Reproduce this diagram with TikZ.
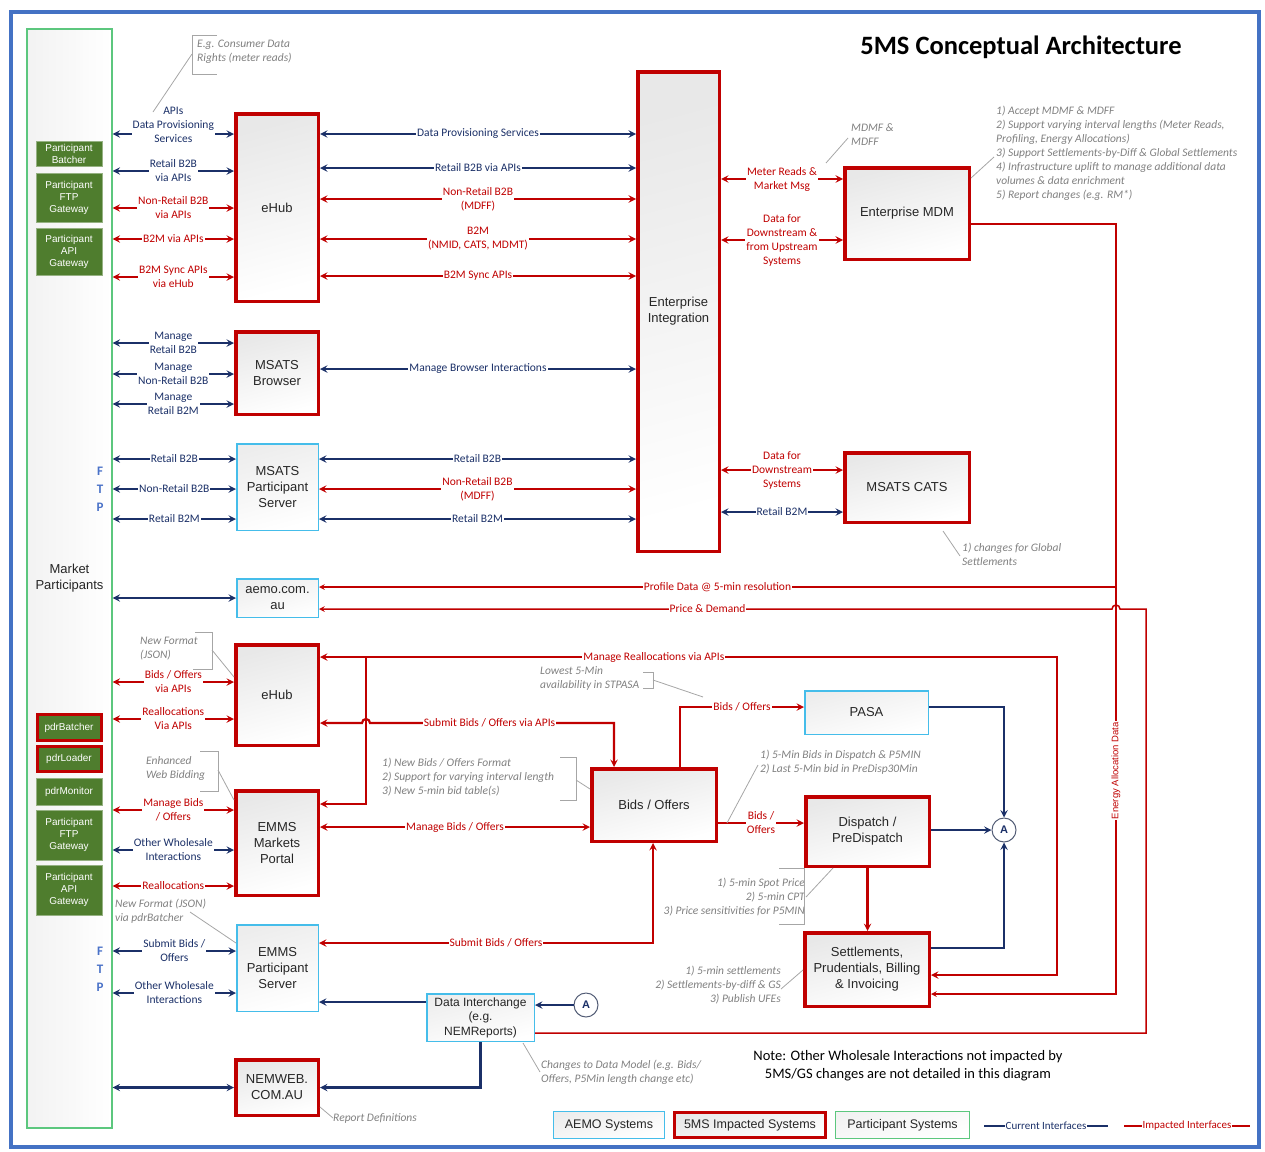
\documentclass[tikz,border=0pt]{standalone}
\usepackage{fontspec}
\setmainfont{Carlito}
\newfontfamily\arialfont{Liberation Sans}
\usetikzlibrary{shapes.geometric,arrows}

\definecolor{navy}{HTML}{1B3068}
\definecolor{impred}{HTML}{C00000}
\definecolor{aemoblue}{HTML}{45BDEA}
\definecolor{partgreen}{HTML}{5CC77E}
\definecolor{darkgreen}{HTML}{4F7D2E}
\definecolor{notegray}{HTML}{808080}
\definecolor{frameblue}{HTML}{4472C4}
\definecolor{ftpblue}{HTML}{4A72C8}

\tikzstyle{impacted} = [rectangle, draw=impred, line width=3.5pt, top color=black!9, bottom color=white, shading angle=15, text=black!85, font=\arialfont\fontsize{13}{16}\selectfont, align=center, inner sep=1pt]
\tikzstyle{aemo} = [rectangle, draw=aemoblue, line width=1.5pt, top color=black!7, bottom color=white, shading angle=15, text=black!85, font=\arialfont\fontsize{13}{16}\selectfont, align=center, inner sep=1pt]
\tikzstyle{partsys} = [rectangle, draw=partgreen, line width=1.3pt, top color=black!5, bottom color=white, shading angle=15, text=black!85, font=\arialfont\fontsize{13}{16}\selectfont, align=center, inner sep=1pt]
\tikzstyle{partbox} = [rectangle, fill=darkgreen, draw=darkgreen!60!white, line width=0.8pt, text=white, font=\arialfont\fontsize{10}{12}\selectfont, align=center, minimum width=66pt, inner sep=0pt]
\tikzstyle{partred} = [partbox, draw=impred, line width=3pt, minimum width=64pt]
\tikzstyle{conn} = [circle, draw=navy!45!gray, line width=1pt, fill=white, text=navy, font=\arialfont\bfseries\fontsize{11}{11}\selectfont, minimum size=24pt, inner sep=0pt]
\tikzstyle{curr} = [draw=navy, line width=2.2pt, >={stealth[scale=1.3]}]
\tikzstyle{imp} = [draw=impred, line width=2.2pt, >={stealth[scale=1.3]}]
\tikzstyle{impthin} = [draw=impred, line width=1.5pt, >={stealth[scale=1.5]}]
\tikzstyle{navylbl} = [fill=white, text=navy, font=\fontsize{11.5}{14}\selectfont, align=center, inner sep=1pt]
\tikzstyle{redlbl} = [navylbl, text=impred]
\tikzstyle{note} = [text=notegray, font=\itshape\fontsize{11.5}{14}\selectfont, align=left, anchor=north west, inner sep=0pt]
\tikzstyle{leader} = [draw=notegray!70, line width=0.8pt]

\begin{document}
\begin{tikzpicture}[x=1pt,y=-1pt]
\useasboundingbox (0,0) rectangle (1265,1151);
\draw[frameblue, line width=4.5pt] (11,12) rectangle (1259,1147);

% title
\node[font=\bfseries\fontsize{26.5}{30}\selectfont] (title) at (1021,47) {5MS Conceptual Architecture};

% market participants
\node[rectangle, draw=partgreen, line width=1.3pt, left color=black!5, right color=white, minimum width=85pt, minimum height=1099pt, font=\arialfont\fontsize{13}{16}\selectfont, align=center, text=black!85] (mp) at (69.5,578.5) {Market\\Participants};
\node[partbox, minimum height=25pt] (pbatch) at (69,153.5) {Participant\\Batcher};
\node[partbox, minimum height=49pt] (pftpA) at (69,197.5) {Participant\\FTP\\Gateway};
\node[partbox, minimum height=47pt] (papiA) at (69,251.5) {Participant\\API\\Gateway};
\node[partred, minimum height=26pt] (pdrbatch) at (69,727.5) {pdrBatcher};
\node[partred, minimum height=25pt] (pdrload) at (69,759) {pdrLoader};
\node[partbox, minimum height=27pt] (pdrmon) at (69,791.5) {pdrMonitor};
\node[partbox, minimum height=50pt] (pftpB) at (69,835) {Participant\\FTP\\Gateway};
\node[partbox, minimum height=50pt] (papiB) at (69,890) {Participant\\API\\Gateway};
\node[text=ftpblue, font=\bfseries\fontsize{13}{18}\selectfont, align=center] (ftpA) at (100,489) {F\\T\\P};
\node[text=ftpblue, font=\bfseries\fontsize{13}{18}\selectfont, align=center] (ftpB) at (100,969) {F\\T\\P};

% systems
\node[impacted, minimum width=82.5pt, minimum height=187.5pt] (ehubA) at (277,207.5) {eHub};
\node[impacted, minimum width=82.5pt, minimum height=82.5pt] (msatsbr) at (277,373) {MSATS\\Browser};
\node[aemo, minimum width=81.5pt, minimum height=86.5pt] (msatsps) at (277.5,487) {MSATS\\Participant\\Server};
\node[aemo, minimum width=81.5pt, minimum height=38.5pt] (aemocom) at (277.5,598) {aemo.com.\\au};
\node[impacted, minimum width=82.5pt, minimum height=100.5pt] (ehubB) at (277,695) {eHub};
\node[impacted, minimum width=82.5pt, minimum height=104.5pt] (emmsmp) at (277,843) {EMMS\\Markets\\Portal};
\node[aemo, minimum width=81.5pt, minimum height=86.5pt] (emmsps) at (277.5,968) {EMMS\\Participant\\Server};
\node[impacted, minimum width=82.5pt, minimum height=55.5pt] (nemweb) at (277,1087.5) {NEMWEB.\\COM.AU};
\node[impacted, minimum width=81.5pt, minimum height=479.5pt] (entint) at (678.5,311.5) {Enterprise\\Integration};
\node[impacted, minimum width=124.5pt, minimum height=91.5pt] (entmdm) at (907,213.5) {Enterprise MDM};
\node[impacted, minimum width=124.5pt, minimum height=69.5pt] (cats) at (907,487.5) {MSATS CATS};
\node[impacted, minimum width=124.5pt, minimum height=72.5pt] (bids) at (654,805) {Bids / Offers};
\node[aemo, minimum width=123.5pt, minimum height=43.5pt] (pasa) at (866.5,712.5) {PASA};
\node[impacted, minimum width=123.5pt, minimum height=69.5pt] (disp) at (867.5,831.5) {Dispatch /\\PreDispatch};
\node[impacted, minimum width=124.5pt, minimum height=73.5pt] (settle) at (867,969.5) {Settlements,\\Prudentials, Billing\\\& Invoicing};
\node[aemo, minimum width=107.5pt, minimum height=47.5pt, font=\arialfont\fontsize{12}{14.5}\selectfont] (dataix) at (480.5,1017.5) {Data Interchange\\(e.g.\\NEMReports)};
\node[conn] (acircA) at (1004,830) {A};
\node[conn] (acircB) at (586,1005) {A};

% participants to eHub
\draw[curr,<->] (mp.east |- 0,134) -- (ehubA.west |- 0,134) node[navylbl, midway, yshift=9pt] {APIs\\Data Provisioning\\Services};
\draw[curr,<->] (mp.east |- 0,171) -- (ehubA.west |- 0,171) node[navylbl, midway] {Retail B2B\\via APIs};
\draw[imp,<->] (mp.east |- 0,208) -- (ehubA.west |- 0,208) node[redlbl, midway] {Non-Retail B2B\\via APIs};
\draw[imp,<->] (mp.east |- 0,239) -- (ehubA.west |- 0,239) node[redlbl, midway] {B2M via APIs};
\draw[imp,<->] (mp.east |- 0,277) -- (ehubA.west |- 0,277) node[redlbl, midway] {B2M Sync APIs\\via eHub};

% eHub to Enterprise Integration
\draw[curr,<->] (ehubA.east |- 0,134) -- (entint.west |- 0,134) node[navylbl, midway] {Data Provisioning Services};
\draw[curr,<->] (ehubA.east |- 0,168) -- (entint.west |- 0,168) node[navylbl, midway] {Retail B2B via APIs};
\draw[imp,<->] (ehubA.east |- 0,199) -- (entint.west |- 0,199) node[redlbl, midway] {Non-Retail B2B\\(MDFF)};
\draw[imp,<->] (ehubA.east |- 0,239) -- (entint.west |- 0,239) node[redlbl, midway] {B2M\\(NMID, CATS, MDMT)};
\draw[imp,<->] (ehubA.east |- 0,276) -- (entint.west |- 0,276) node[redlbl, midway] {B2M Sync APIs};

% MSATS Browser
\draw[curr,<->] (mp.east |- 0,343) -- (msatsbr.west |- 0,343) node[navylbl, midway] {Manage\\Retail B2B};
\draw[curr,<->] (mp.east |- 0,374) -- (msatsbr.west |- 0,374) node[navylbl, midway] {Manage\\Non-Retail B2B};
\draw[curr,<->] (mp.east |- 0,404) -- (msatsbr.west |- 0,404) node[navylbl, midway] {Manage\\Retail B2M};
\draw[curr,<->] (msatsbr.east |- 0,369) -- (entint.west |- 0,369) node[navylbl, midway] {Manage Browser Interactions};

% MSATS Participant Server
\draw[curr,<->] (mp.east |- 0,459) -- (msatsps.west |- 0,459) node[navylbl, midway] {Retail B2B};
\draw[curr,<->] (mp.east |- 0,489) -- (msatsps.west |- 0,489) node[navylbl, midway] {Non-Retail B2B};
\draw[curr,<->] (mp.east |- 0,519) -- (msatsps.west |- 0,519) node[navylbl, midway] {Retail B2M};
\draw[curr,<->] (msatsps.east |- 0,459) -- (entint.west |- 0,459) node[navylbl, midway] {Retail B2B};
\draw[imp,<->] (msatsps.east |- 0,489) -- (entint.west |- 0,489) node[redlbl, midway] {Non-Retail B2B\\(MDFF)};
\draw[curr,<->] (msatsps.east |- 0,519) -- (entint.west |- 0,519) node[navylbl, midway] {Retail B2M};

% Enterprise Integration to MDM and CATS
\draw[imp,<->] (entint.east |- 0,179) -- (entmdm.west |- 0,179) node[redlbl, midway] {Meter Reads \&\\Market Msg};
\draw[imp,<->] (entint.east |- 0,240) -- (entmdm.west |- 0,240) node[redlbl, midway] {Data for\\Downstream \&\\from Upstream\\Systems};
\draw[imp,<->] (entint.east |- 0,470) -- (cats.west |- 0,470) node[redlbl, midway] {Data for\\Downstream\\Systems};
\draw[curr,<->] (entint.east |- 0,512) -- (cats.west |- 0,512) node[navylbl, midway] {Retail B2M};

% aemo.com.au
\draw[curr,<->] (mp.east |- aemocom.west) -- (aemocom.west);
\coordinate (eabus) at (1116,587);
\coordinate (pdhop) at (1120,609);
\draw[impthin,->] (entmdm.east |- 0,224) -- (1116,224) -- (1116,994) node[navylbl, text=impred, pos=0.71, rotate=90, font=\arialfont\fontsize{9.5}{10}\selectfont] {Energy Allocation Data} -- (settle.east |- 0,994);
\draw[impthin,->] (eabus) -- (aemocom.east |- eabus) node[redlbl, midway] {Profile Data @ 5-min resolution};
\draw[impthin,->] (dataix.east |- 0,1033) -- (1146,1033) -- (1146,609) -- (pdhop) arc[start angle=0, end angle=-180, radius=4] -- (aemocom.east |- 0,609) node[redlbl, pos=0.51] {Price \& Demand};

% eHub (wholesale)
\draw[imp,<->] (mp.east |- 0,682) -- (ehubB.west |- 0,682) node[redlbl, midway] {Bids / Offers\\via APIs};
\draw[imp,<->] (mp.east |- 0,719) -- (ehubB.west |- 0,719) node[redlbl, midway] {Reallocations\\Via APIs};

% EMMS Markets Portal
\draw[imp,<->] (mp.east |- 0,810) -- (emmsmp.west |- 0,810) node[redlbl, midway] {Manage Bids\\/ Offers};
\draw[curr,<->] (mp.east |- 0,850) -- (emmsmp.west |- 0,850) node[navylbl, midway] {Other Wholesale\\Interactions};
\draw[imp,<->] (mp.east |- 0,886) -- (emmsmp.west |- 0,886) node[redlbl, midway] {Reallocations};

% EMMS Participant Server
\draw[curr,<->] (mp.east |- 0,951) -- (emmsps.west |- 0,951) node[navylbl, midway] {Submit Bids /\\Offers};
\draw[curr,<->] (mp.east |- 0,993) -- (emmsps.west |- 0,993) node[navylbl, midway] {Other Wholesale\\Interactions};

% NEMWEB
\draw[curr,<->] (mp.east |- nemweb.west) -- (nemweb.west);

% bids and offers flows
\coordinate (rbr) at (366,657);
\draw[imp,<->] (ehubB.east |- 0,657) -- (1057,657) node[redlbl, pos=0.453] {Manage Reallocations via APIs} -- (1057,975) -- (settle.east |- 0,975);
\draw[imp,->] (rbr) |- (emmsmp.east |- 0,804);
\draw[imp,<->] (ehubB.east |- 0,723) -- (362,723) arc[start angle=180, end angle=360, radius=4] -- (614,723) node[redlbl, pos=0.49] {Submit Bids / Offers via APIs} -- (bids.north -| 614,0);
\draw[imp,<->] (emmsmp.east |- 0,827) -- (bids.west |- 0,827) node[redlbl, midway] {Manage Bids / Offers};
\draw[imp,<->] (emmsps.east |- 0,943) -- (653,943) node[redlbl, pos=0.53] {Submit Bids / Offers} -- (bids.south -| 653,0);
\draw[imp,->] (bids.north -| 680,0) -- (680,707) -- (pasa.west |- 0,707) node[redlbl, midway] {Bids / Offers};
\draw[imp,->] (bids.east |- 0,823) -- (disp.west |- 0,823) node[redlbl, midway] {Bids /\\Offers};
\draw[imp,->] (disp.south) -- (disp.south |- settle.north);

% to A
\draw[curr,->] (pasa.east |- 0,707) -| (acircA.north);
\draw[curr,->] (disp.east |- acircA.west) -- (acircA.west);
\draw[curr,->] (settle.east |- 0,948) -| (acircA.south);
\draw[curr,->] (acircB.west) -- (dataix.east |- acircB.west);
\draw[curr,->] (dataix.west |- 0,1002) -- (emmsps.east |- 0,1002);
\draw[curr,->] (dataix.south) |- (nemweb.east);

% notes
\node[note] (crd) at (197,40) {E.g. Consumer Data\\Rights (meter reads)};
\draw[leader] (217,35) -- (192,35) -- (192,74) -- (217,74);
\draw[leader] (192,54) -- (153,112);
\node[note] (mdmf) at (851,123) {MDMF \&\\MDFF};
\draw[leader] (826,163) -- (848,138);
\node[note] (mdmnotes) at (996,106) {1) Accept MDMF \& MDFF\\2) Support varying interval lengths (Meter Reads,\\Profiling, Energy Allocations)\\3) Support Settlements-by-Diff \& Global Settlements\\4) Infrastructure uplift to manage additional data\\volumes \& data enrichment\\5) Report changes (e.g. RM*)};
\draw[leader] (entmdm.east |- 0,178) -- (994,157);
\node[note] (catsnote) at (962,543) {1) changes for Global\\Settlements};
\draw[leader] (943,531) -- (960,556);
\node[note] (jsonA) at (140,637) {New Format\\(JSON)};
\draw[leader] (195,632) -- (212,632) -- (212,669) -- (193,669);
\draw[leader] (212,650) -- (ehubB.west |- 0,677);
\node[note] (webbid) at (146,756) {Enhanced\\Web Bidding};
\draw[leader] (200,751) -- (218,751) -- (218,791) -- (200,791);
\draw[leader] (218,770) -- (emmsmp.west |- 0,800);
\node[note] (jsonB) at (115,899) {New Format (JSON)\\via pdrBatcher};
\draw[leader] (190,912) -- (emmsps.west |- 0,943);
\node[note] (stpasa) at (540,666) {Lowest 5-Min\\availability in STPASA};
\draw[leader] (643,672) -- (653,672) -- (653,688) -- (643,688);
\draw[leader] (653,680) -- (703,697);
\node[note] (bidnotes) at (382,758) {1) New Bids / Offers Format\\2) Support for varying interval length\\3) New 5-min bid table(s)};
\draw[leader] (560,757) -- (576,757) -- (576,800) -- (560,800);
\draw[leader] (576,780) -- (bids.west |- 0,789);
\node[note] (dispnotes) at (760,750) {1) 5-Min Bids in Dispatch \& P5MIN\\2) Last 5-Min bid in PreDisp30Min};
\draw[leader] (727,823) -- (758,765);
\node[note, anchor=north east, align=right] (pricenotes) at (805,878) {1) 5-min Spot Price\\2) 5-min CPT\\3) Price sensitivities for P5MIN};
\draw[leader] (779,868) -- (804,868) -- (804,924) -- (779,924);
\draw[leader] (833,868) -- (806,897);
\node[note, anchor=north east, align=right] (settlenotes) at (781,966) {1) 5-min settlements\\2) Settlements-by-diff \& GS\\3) Publish UFEs};
\draw[leader] (settle.west |- 0,970) -- (781,989);
\node[note] (dinote) at (541,1060) {Changes to Data Model (e.g. Bids/\\Offers, P5Min length change etc)};
\draw[leader] (523,1043) -- (540,1072);
\node[note] (repdef) at (333,1113) {Report Definitions};
\draw[leader] (nemweb.east |- 0,1107) -- (333,1118);

\node[font=\fontsize{14.5}{18}\selectfont, align=center] (footnote) at (908,1066) {Note: Other Wholesale Interactions not impacted by\\5MS/GS changes are not detailed in this diagram};

% legend
\node[aemo, minimum width=111pt, minimum height=27pt, font=\arialfont\fontsize{12.5}{14}\selectfont] (legaemo) at (609,1125) {AEMO Systems};
\node[impacted, minimum width=151pt, minimum height=25pt, font=\arialfont\fontsize{12.5}{14}\selectfont] (legimp) at (750,1125) {5MS Impacted Systems};
\node[partsys, minimum width=134pt, minimum height=27pt, font=\arialfont\fontsize{12.5}{14}\selectfont] (legpart) at (902.5,1125) {Participant Systems};
\coordinate (lgcA) at (984,1126);
\coordinate (lgcB) at (1108,1126);
\coordinate (lgiA) at (1124,1126);
\coordinate (lgiB) at (1250,1126);
\draw[curr] (lgcA) -- (lgcB) node[navylbl, midway, font=\fontsize{11}{12}\selectfont] {Current Interfaces};
\draw[imp] (lgiA) -- (lgiB) node[redlbl, midway, font=\fontsize{11}{12}\selectfont] {Impacted Interfaces};

\end{tikzpicture}
\end{document}
